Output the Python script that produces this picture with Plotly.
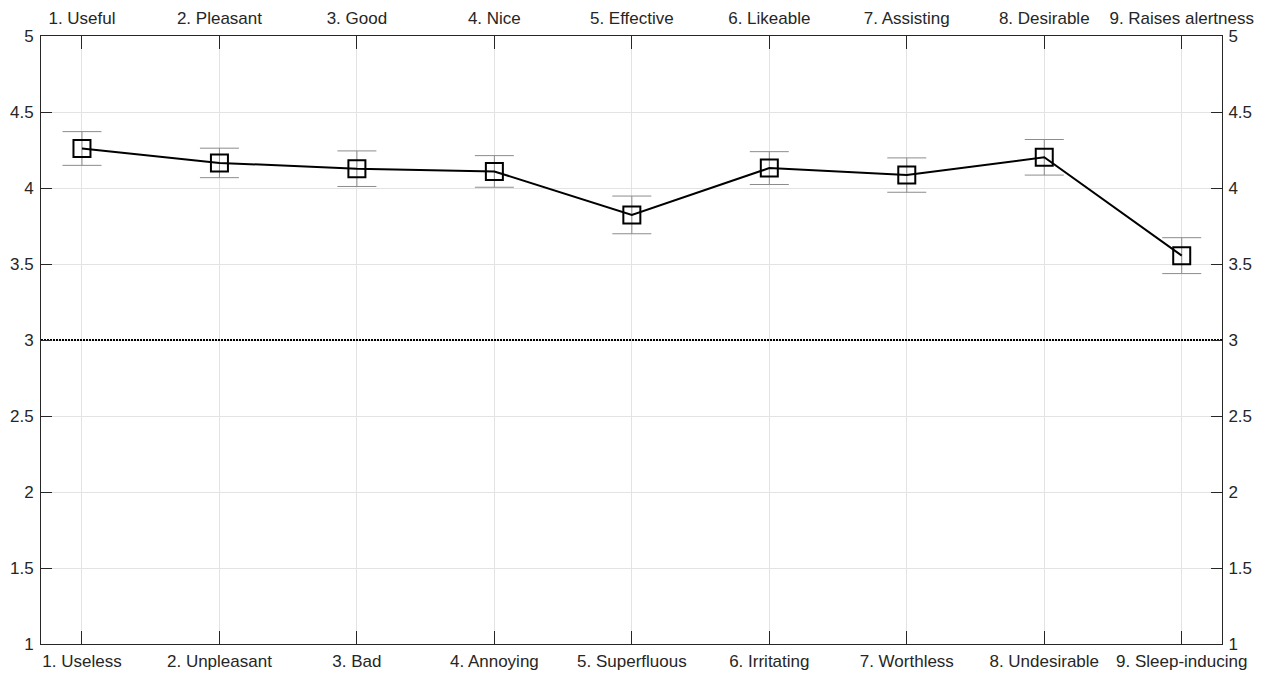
import plotly.graph_objects as go

items = [1, 2, 3, 4, 5, 6, 7, 8, 9]
neg_labels = ["1. Useless", "2. Unpleasant", "3. Bad", "4. Annoying", "5. Superfluous",
              "6. Irritating", "7. Worthless", "8. Undesirable", "9. Sleep-inducing"]
pos_labels = ["1. Useful", "2. Pleasant", "3. Good", "4. Nice", "5. Effective",
              "6. Likeable", "7. Assisting", "8. Desirable", "9. Raises alertness"]
means = [4.26, 4.165, 4.127, 4.109, 3.823, 4.131, 4.085, 4.202, 3.555]
errors = [0.111, 0.097, 0.117, 0.104, 0.124, 0.108, 0.113, 0.117, 0.118]
neutral = 3
y_ticks = [1, 1.5, 2, 2.5, 3, 3.5, 4, 4.5, 5]
y_ticktext = ["1", "1.5", "2", "2.5", "3", "3.5", "4", "4.5", "5"]

axis_col = "#262626"
grid_col = "#e3e3e3"
font = dict(family="Liberation Sans, Arial, sans-serif", size=17, color=axis_col)

fig = go.Figure()

# neutral reference line
fig.add_trace(go.Scatter(
    x=[0.702, 9.293], y=[neutral, neutral], mode="lines",
    line=dict(color="black", width=2, dash="2px,1px"),
    hoverinfo="skip", showlegend=False))

fig.add_trace(go.Scatter(
    x=items, y=means, mode="lines+markers",
    line=dict(color="black", width=2),
    marker=dict(symbol="square-open", size=17, color="black", line=dict(width=2)),
    error_y=dict(type="data", array=errors, color="#8c8c8c", thickness=1, width=19.5),
    showlegend=False))

# invisible trace to activate secondary axes
fig.add_trace(go.Scatter(x=items, y=means, xaxis="x2", yaxis="y2", mode="markers",
                         marker=dict(opacity=0), hoverinfo="skip", showlegend=False))

common_x = dict(range=[0.702, 9.293], tickmode="array", tickvals=items,
                showgrid=True, gridcolor=grid_col, gridwidth=1,
                showline=True, linecolor=axis_col, linewidth=1,
                ticks="inside", ticklen=13, tickcolor=axis_col, tickwidth=1,
                tickfont=font, zeroline=False, automargin=False)
common_y = dict(range=[1, 5], tickmode="array", tickvals=y_ticks, ticktext=y_ticktext,
                showline=True, linecolor=axis_col, linewidth=1,
                ticks="inside", ticklen=11, tickcolor=axis_col, tickwidth=1,
                tickfont=font, zeroline=False, automargin=False)

fig.update_layout(
    width=1265, height=675,
    margin=dict(l=41, r=43, t=36, b=31),
    plot_bgcolor="white", paper_bgcolor="white",
    xaxis=dict(common_x, ticktext=neg_labels, side="bottom", ticklabelstandoff=2),
    xaxis2=dict(common_x, ticktext=pos_labels, side="top", overlaying="x", showgrid=False,
                ticklabelstandoff=4),
    yaxis=dict(common_y, side="left", showgrid=True, gridcolor=grid_col, ticklabelstandoff=3),
    yaxis2=dict(common_y, side="right", overlaying="y", showgrid=False, ticklabelstandoff=2),
)

fig.write_html("out.html", config={"displayModeBar": False},
               post_script="document.body.style.margin='0';document.body.style.overflow='hidden';")
